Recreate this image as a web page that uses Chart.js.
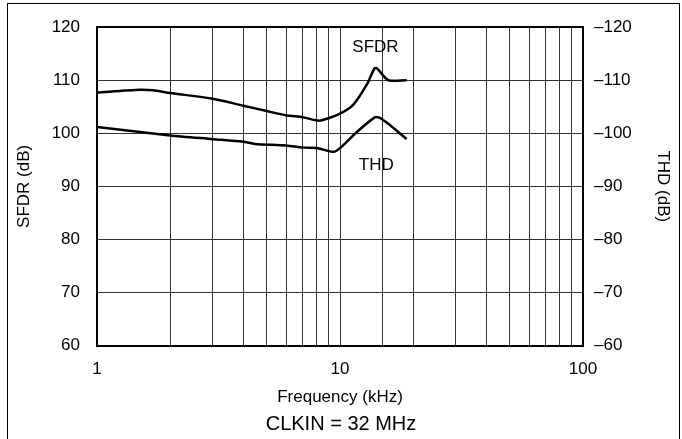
<!DOCTYPE html>
<html>
<head>
<meta charset="utf-8">
<script src="https://cdn.jsdelivr.net/npm/chart.js@4"></script>
<style>
  html, body { margin: 0; padding: 0; background: #fff; }
  #wrap { position: relative; width: 682px; height: 439px; }
  #frame { position: absolute; left: 7px; top: 3px; width: 671px; height: 440px;
           border-left: 1px solid #000; border-top: 1px solid #000; border-right: 1px solid #000; }
  canvas { position: absolute; left: 0; top: 0; }
</style>
</head>
<body>
<div id="wrap">
  <div id="frame"></div>
  <canvas id="c" width="682" height="439"></canvas>
</div>
<script>
// SFDR curve (left axis, dB)
const sfdrFreq = [1, 1.5, 1.7, 2, 3, 4, 5, 6, 7.06, 8.1, 8.5, 10, 11.35, 12.9, 13.9, 14.3, 15.8, 18.8];
const sfdrDb   = [107.7, 108.2, 108.1, 107.6, 106.5, 105.2, 104.2, 103.4, 103.0, 102.4, 102.5, 103.7, 105.4, 109.2, 112.3, 112.1, 110.0, 110.0];

// THD curve (right axis, dB)
const thdFreq = [1, 2, 3, 4, 4.47, 6, 7.06, 8.1, 9.4, 10, 11.7, 13.9, 14.6, 16.3, 18.8];
const thdDb   = [-101.2, -99.6, -98.9, -98.4, -98.0, -97.7, -97.3, -97.2, -96.5, -97.2, -100.2, -103.0, -102.9, -101.3, -98.9];

// curve names inside the plot: [text, freq, left-axis dB]
const curveLabels = [['SFDR', 14.0, 116.2], ['THD', 14.1, 94.0]];

const leftTicks = [60, 70, 80, 90, 100, 110, 120];
const rightTicks = [-120, -110, -100, -90, -80, -70, -60];

const FONT = "'Liberation Sans', Arial, Helvetica, sans-serif";

const pts = (xs, ys) => xs.map((x, i) => ({x: x, y: ys[i]}));

const labelPlugin = {
  id: 'curveLabels',
  afterDatasetsDraw(chart) {
    const {ctx, scales} = chart;
    ctx.save();
    ctx.font = '17px ' + FONT;
    ctx.fillStyle = '#000';
    ctx.textAlign = 'center';
    ctx.textBaseline = 'middle';
    curveLabels.forEach(l => {
      ctx.fillText(l[0], scales.x.getPixelForValue(l[1]), scales.y.getPixelForValue(l[2]));
    });
    ctx.restore();
  }
};

new Chart(document.getElementById('c'), {
  type: 'line',
  data: {
    datasets: [
      {label: 'SFDR', data: pts(sfdrFreq, sfdrDb), yAxisID: 'y', borderColor: '#000', borderWidth: 2.5, pointRadius: 0, tension: 0.25, fill: false},
      {label: 'THD', data: pts(thdFreq, thdDb), yAxisID: 'y1', borderColor: '#000', borderWidth: 2.5, pointRadius: 0, tension: 0.25, fill: false}
    ]
  },
  options: {
    responsive: false,
    animation: false,
    layout: {padding: {top: 17, left: 0, right: 0, bottom: 0}},
    plugins: {
      legend: {display: false},
      tooltip: {enabled: false},
      title: {
        display: true, position: 'bottom', text: 'CLKIN = 32 MHz',
        color: '#000', font: {family: FONT, size: 20, weight: 'normal'},
        padding: {top: 0, bottom: 3}
      }
    },
    scales: {
      x: {
        type: 'logarithmic', min: 1, max: 100,
        afterFit: s => { s.height = 66.5; },
        border: {display: true, color: '#000', width: 2},
        grid: {
          drawTicks: false,
          color: '#333',
          lineWidth: c => (c.tick && (c.tick.value === 1 || c.tick.value === 100)) ? 2 : 1
        },
        ticks: {
          autoSkip: false, maxRotation: 0, padding: 14, color: '#000',
          font: {family: FONT, size: 17},
          callback: v => ([1, 10, 100].includes(v) ? String(v) : '')
        },
        title: {display: true, text: 'Frequency (kHz)', color: '#000', font: {family: FONT, size: 17}, padding: {top: 0, bottom: 4}}
      },
      y: {
        position: 'left', min: 60, max: 120,
        afterFit: s => { s.width = 97; },
        afterBuildTicks: s => { s.ticks = leftTicks.map(v => ({value: v})); },
        border: {display: true, color: '#000', width: 2},
        grid: {
          drawTicks: false,
          color: c => (c.tick && c.tick.value === 120) ? '#000' : '#333',
          lineWidth: c => (c.tick && c.tick.value === 120) ? 2 : 1
        },
        ticks: {padding: 17, color: '#000', font: {family: FONT, size: 17}},
        title: {display: true, text: 'SFDR (dB)', color: '#000', font: {family: FONT, size: 17}, padding: {top: 14, bottom: 0}}
      },
      y1: {
        position: 'right', min: -120, max: -60, reverse: true,
        afterFit: s => { s.width = 99; },
        afterBuildTicks: s => { s.ticks = rightTicks.map(v => ({value: v})); },
        border: {display: true, color: '#000', width: 2},
        grid: {display: false, drawTicks: false},
        ticks: {
          padding: 11, color: '#000', font: {family: FONT, size: 17},
          callback: v => '\u2013' + Math.abs(v)
        },
        title: {display: true, text: 'THD (dB)', color: '#000', font: {family: FONT, size: 17}, padding: {top: 9, bottom: 0}}
      }
    }
  },
  plugins: [labelPlugin]
});
</script>
</body>
</html>
